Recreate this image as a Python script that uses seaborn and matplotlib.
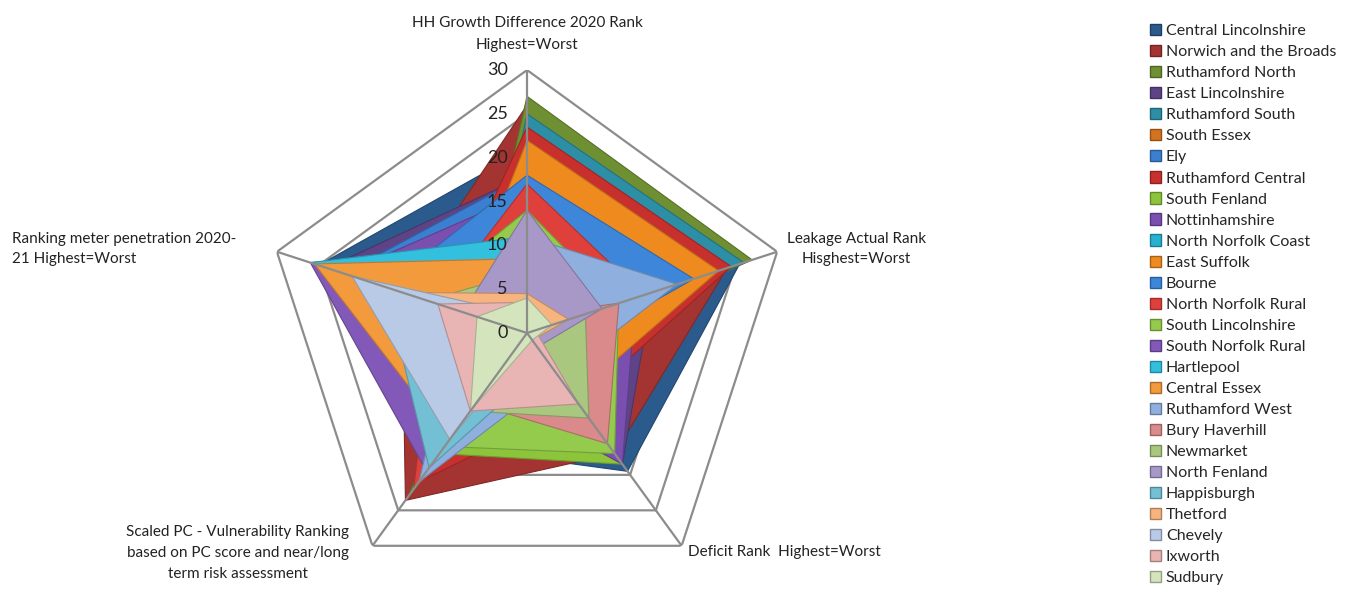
import numpy as np
import seaborn as sns
import matplotlib.pyplot as plt
import matplotlib.colors as mcolors
from matplotlib.patches import Patch

# axes of the radar (clockwise from the top)
axis_labels = ["HH Growth Difference 2020 Rank\nHighest=Worst",
               "Leakage Actual Rank\nHisghest=Worst",
               "Deficit Rank  Highest=Worst",
               "Scaled PC - Vulnerability Ranking\nbased on PC score and near/long\nterm risk assessment",
               "Ranking meter penetration 2020-\n21 Highest=Worst"]

zones = ["Central Lincolnshire", "Norwich and the Broads", "Ruthamford North",
         "East Lincolnshire", "Ruthamford South", "South Essex", "Ely",
         "Ruthamford Central", "South Fenland", "Nottinhamshire",
         "North Norfolk Coast", "East Suffolk", "Bourne", "North Norfolk Rural",
         "South Lincolnshire", "South Norfolk Rural", "Hartlepool", "Central Essex",
         "Ruthamford West", "Bury Haverhill", "Newmarket", "North Fenland",
         "Happisburgh", "Thetford", "Chevely", "Ixworth", "Sudbury"]

# values per axis: HH growth, leakage, deficit, scaled PC, meter penetration
hh_growth = [21, 26, 27, 18, 25, 21, 18, 23.5, 13, 16, 9, 22, 18, 17,
             14, 10, 11, 8.5, 11, 2, 7, 14, 2, 4.5, 2, 3.5, 4]
leakage = [25.5, 24, 27, 15, 26, 23, 22, 24.5, 10.5, 13, 3, 23, 20, 14,
           11, 6, 4, 4, 18, 11, 7, 9, 1, 5, 1, 1, 3]
deficit = [19.5, 17, 3, 18.5, 3, 8, 5, 10, 18.5, 18.5, 4, 9, 4, 5,
           17, 3, 3, 3, 6, 15.6, 12, 2, 4, 1, 1, 10, 1]
scaled_pc = [16, 23.6, 23, 12, 9, 8, 10, 21, 17, 8, 6, 5, 15, 22,
             16, 19.5, 5, 15, 21, 10, 11, 3, 19, 1, 15, 11, 11]
meter = [25, 15, 6, 24, 5, 7, 22, 10, 16, 22, 5, 8, 17, 11,
         13, 26, 26, 25.5, 8, 3, 12, 7.7, 17, 15, 21, 10.7, 6]

colors = ["#2B5A8C", "#A33431", "#6F8F33", "#5E4487", "#2D8FA6", "#D4731E",
          "#3B7FD0", "#C8302E", "#8CC43C", "#7A4FB0", "#27B0CF", "#EF8A1F",
          "#3D86DA", "#E0403C", "#94CB4C", "#8258B8", "#33C0DE", "#F39A3C",
          "#8FB0DE", "#DA8A8A", "#A9C77E", "#A898C8", "#73C0D4", "#F7B47E",
          "#B9CAE6", "#E9B5B4", "#D4E4BC"]

sns.set_theme(style="white")
plt.rcParams["font.family"] = ["Lato", "DejaVu Sans"]

fig = plt.figure(figsize=(13.7, 5.9), dpi=100)
ax = fig.add_axes([0.1927, -0.0102, 0.384, 0.8915], projection="polar")
ax.set_theta_offset(np.pi / 2)
ax.set_theta_direction(-1)

theta = np.linspace(0, 2 * np.pi, 5, endpoint=False)
closed = np.r_[theta, theta[0]]
grid_col = "#8C8C8C"

# pentagon gridlines behind the fills
for r in range(5, 35, 5):
    ax.plot(closed, [r] * 6, color=grid_col, lw=1.6, zorder=1)

table = np.array([hh_growth, leakage, deficit, scaled_pc, meter]).T
for i, (name, vals) in enumerate(zip(zones, table)):
    edge = tuple(c * 0.78 for c in mcolors.to_rgb(colors[i]))
    ax.fill(closed, np.r_[vals, vals[0]], facecolor=colors[i], edgecolor=edge,
            lw=0.8, zorder=2 + i * 0.01)

# spokes on top
for t in theta:
    ax.plot([t, t], [0, 30], color=grid_col, lw=1.6, zorder=5)

for r in range(0, 35, 5):
    ax.annotate(str(r), xy=(0, r), xytext=(-14, 0), textcoords="offset points",
                ha="right", va="center", fontsize=13, color="#222222", zorder=6)

ax.set_ylim(0, 30)
ax.grid(False)
ax.spines["polar"].set_visible(False)
ax.set_xticks([])
ax.set_yticks([])
ax.patch.set_alpha(0)

lab_kw = dict(fontsize=11, color="#222222")
fig.text(527 / 1370, 1 - 34 / 590, axis_labels[0], ha="center", va="center",
         linespacing=1.75, **lab_kw)
fig.text(787 / 1370, 1 - 249 / 590, axis_labels[1], ha="left", va="center",
         multialignment="center", linespacing=1.55, **lab_kw)
fig.text(688 / 1370, 1 - 552 / 590, axis_labels[2], ha="left", va="center", **lab_kw)
fig.text(238 / 1370, 1 - 553 / 590, axis_labels[3], ha="center", va="center",
         linespacing=1.6, **lab_kw)
fig.text(12 / 1370, 1 - 249 / 590, axis_labels[4], ha="left", va="center",
         multialignment="left", linespacing=1.6, **lab_kw)

handles = [Patch(facecolor=c, edgecolor=tuple(v * 0.7 for v in mcolors.to_rgb(c)))
           for c in colors]
fig.legend(handles, zones, loc="upper left", bbox_to_anchor=(1150 / 1370, 1 - 24 / 590),
           frameon=False, fontsize=11.5, handlelength=0.7, handleheight=0.7,
           handletextpad=0.3, labelspacing=0.43, borderpad=0, borderaxespad=0)

fig.savefig("out.png", dpi=100)
